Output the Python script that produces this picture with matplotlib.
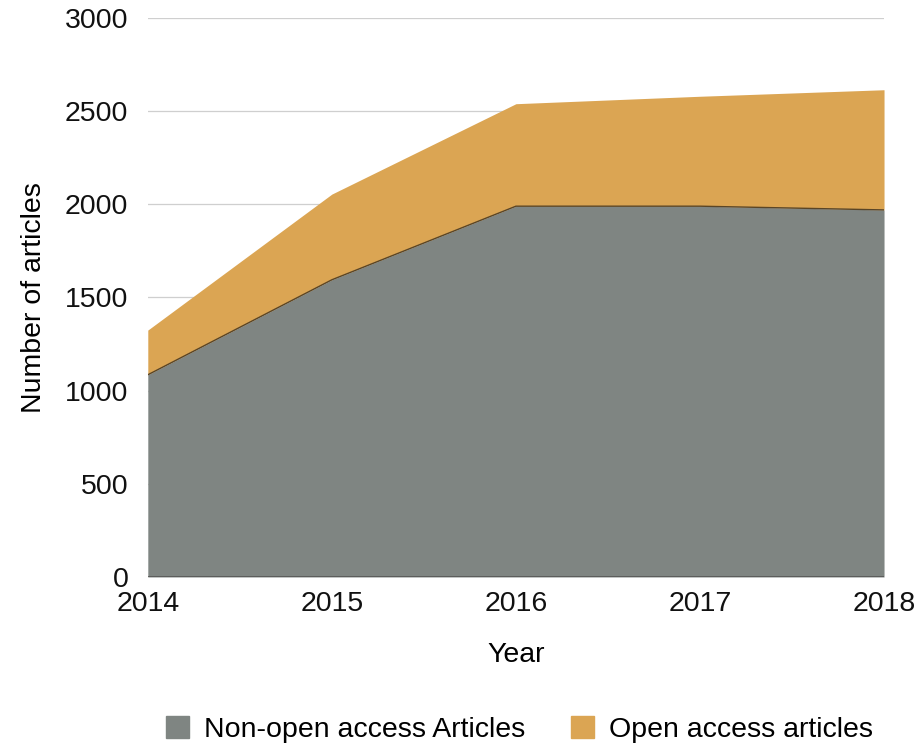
import numpy as np
import matplotlib
matplotlib.use('Agg')
import matplotlib.pyplot as plt
from matplotlib.patches import Patch

plt.rcParams['font.family'] = ['Liberation Sans', 'DejaVu Sans']

#==============
# Chart data
years = [2014, 2015, 2016, 2017, 2018]
nonOpen = [1085, 1595, 1990, 1990, 1970]
openAccess = [240, 460, 550, 590, 645]
yTicks = [0, 500, 1000, 1500, 2000, 2500, 3000]

grayCol = '#7f8582'
orangeCol = '#dba553'
fs = 20.5

#==============
# Plot
fig = plt.figure(figsize=(9.18, 7.5), dpi=100)
ax = fig.add_axes([0.161, 0.2307, 0.802, 0.7453])

for t in yTicks[1:]:
	ax.axhline(t, color='#cfcfcf', lw=0.9, zorder=0)

total = np.add(nonOpen, openAccess)
ax.fill_between(years, nonOpen, total, color=orangeCol, lw=0, zorder=2)
ax.fill_between(years, 0, nonOpen, color=grayCol, lw=0, zorder=3)
ax.plot(years, nonOpen, color='#5a4526', lw=1.0, zorder=4)
ax.axhline(0, color='#555555', lw=1.2, zorder=5)

ax.set_xlim(2014, 2018)
ax.set_ylim(0, 3000)
ax.set_xticks(years)
ax.set_yticks(yTicks)
ax.tick_params(length=0, labelsize=fs, colors='#111111')
ax.tick_params(axis='y', pad=14)
ax.tick_params(axis='x', pad=10)
for s in ax.spines.values():
	s.set_visible(False)

ax.set_xlabel('Year', fontsize=fs, labelpad=18)
ax.set_ylabel('Number of articles', fontsize=fs, labelpad=13)

handles = [Patch(color=grayCol, label='Non-open access Articles'),
		   Patch(color=orangeCol, label='Open access articles')]
fig.legend(handles=handles, loc='center', bbox_to_anchor=(0.566, 0.027), ncol=2,
		   frameon=False, fontsize=fs, handlelength=0.8, handleheight=0.8,
		   handletextpad=0.55, columnspacing=1.6)

fig.savefig('out.png', dpi=100)
